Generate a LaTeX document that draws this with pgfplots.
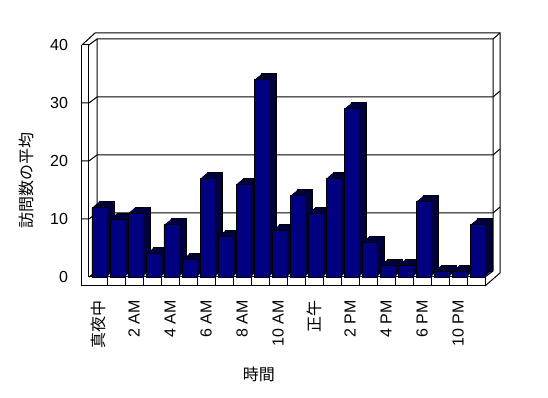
\documentclass[border=0pt]{standalone}
\usepackage{pgfplots}
\usepackage{pgfplotstable}
\pgfplotsset{compat=1.18}
\usepackage{fontspec}
\setmainfont{Liberation Sans}
\newfontfamily\cjk{Noto Sans CJK JP}
\definecolor{barfront}{RGB}{0,0,128}
\definecolor{barside}{RGB}{0,0,58}
\pgfplotstableread{
x y
0 12
1 10
2 11
3 4
4 9
5 3
6 17
7 7
8 16
9 34
10 8
11 14
12 11
13 17
14 29
15 6
16 2
17 2
18 13
19 1
20 1
21 9
}\visits
\begin{document}
\fontsize{16}{19}\selectfont
\begin{tikzpicture}[x=1pt,y=1pt,font=\fontsize{16}{19}\selectfont]
\useasboundingbox (-89,-121) rectangle (459,277);
% walls and floor (decoration)
\begin{scope}[line width=1pt, line join=miter, black]
\draw (-7,232) -- (-7,-9) -- (396,-9) -- (396,0);
\draw (0,232) -- (0,0) -- (396,0);
\draw (-7,232) -- (6,244) -- (411,244) -- (411,4) -- (396,-9);
\draw (0,232) -- (8,238) -- (404,238) -- (404,6) -- (8,6) -- (8,238);
\draw (404,238) -- (411,244);
\draw (396,0) -- (404,6);
\draw (0,0) -- (8,6);
\foreach \k in {1,...,21} { \draw (18*\k,0) -- (18*\k,-9); }
\foreach \v in {10,20,30} {
  \draw (-7,5.8*\v) -- (0,5.8*\v) -- (8,5.8*\v+6) -- (404,5.8*\v+6) -- (411,5.8*\v+12);
}
\draw (-7,232) -- (0,232);
\end{scope}
\begin{axis}[
  at={(0,0)}, anchor=south west,
  scale only axis, width=396pt, height=232pt,
  xmin=-0.5, xmax=21.5, ymin=0, ymax=40,
  clip=false,
  ybar, bar width=15pt,
  axis line style={draw=none},
  major tick length=0pt,
  ytick={0,10,20,30,40},
  xtick={0,2,...,20},
  xticklabels={{\cjk 真夜中},2 AM,4 AM,6 AM,8 AM,10 AM,{\cjk 正午},2 PM,4 PM,6 PM,10 PM},
  /pgf/number format/assume math mode=true,
  tick label style={font=\fontsize{16}{19}\selectfont},
  yticklabel style={anchor=east, xshift=-15.5pt},
  xticklabel style={yshift=-17.5pt, rotate=90, anchor=east},
  ylabel={\cjk 訪問数の平均},
  ylabel style={at={(axis description cs:-0.158,0.414)}, anchor=center, font=\fontsize{16}{19}\selectfont},
  xlabel={\cjk 時間},
  xlabel style={at={(axis description cs:0.429,-0.422)}, anchor=center, font=\fontsize{16}{19}\selectfont},
]
\addplot[fill=barside, draw=black, line width=0.8pt, bar shift=8.5pt, yshift=6pt] table[x=x,y=y]{\visits};
\addplot[fill=barside, draw=none, bar shift=7.5pt, yshift=5.14pt] table[x=x,y=y]{\visits};
\addplot[fill=barside, draw=none, bar shift=6.5pt, yshift=4.29pt] table[x=x,y=y]{\visits};
\addplot[fill=barside, draw=none, bar shift=5.5pt, yshift=3.43pt] table[x=x,y=y]{\visits};
\addplot[fill=barside, draw=none, bar shift=4.5pt, yshift=2.57pt] table[x=x,y=y]{\visits};
\addplot[fill=barside, draw=none, bar shift=3.5pt, yshift=1.71pt] table[x=x,y=y]{\visits};
\addplot[fill=barside, draw=none, bar shift=2.5pt, yshift=0.86pt] table[x=x,y=y]{\visits};
\addplot[fill=barfront, draw=black, line width=0.8pt, bar shift=1.5pt] table[x=x,y=y]{\visits};
\end{axis}
\end{tikzpicture}
\end{document}
